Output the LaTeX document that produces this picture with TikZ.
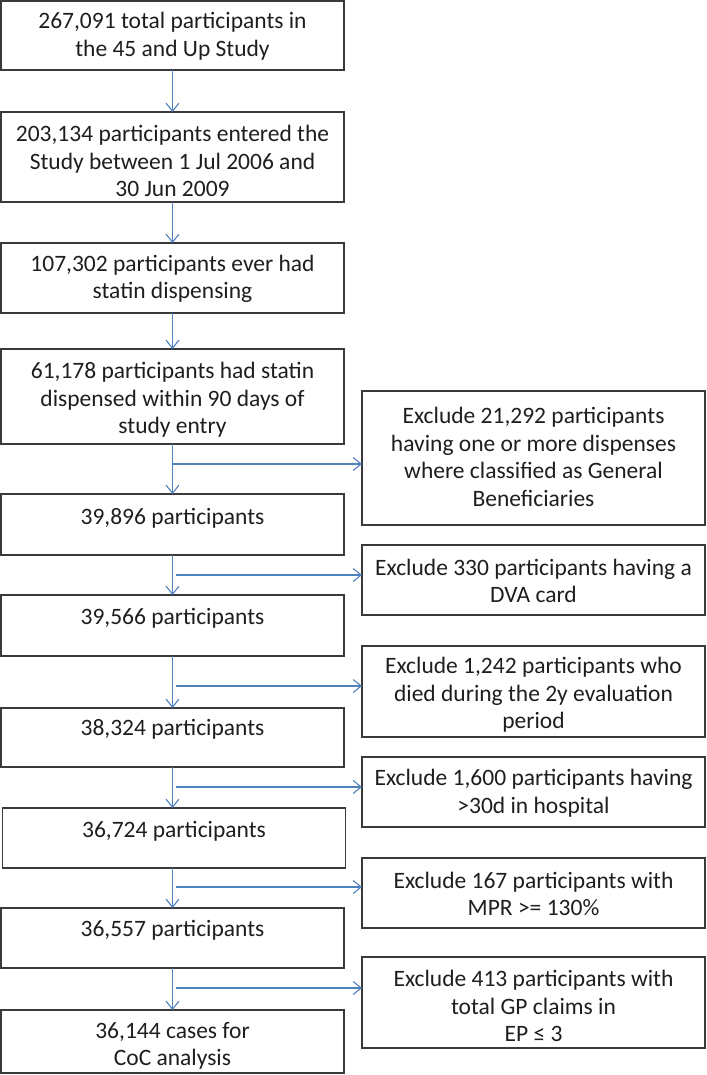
\documentclass[tikz,border=0pt]{standalone}
\usepackage{fontspec}
\setmainfont{Carlito}
\usetikzlibrary{arrows.meta}
\definecolor{boxgray}{HTML}{3A3A3A}
\definecolor{lineblue}{HTML}{4F81BD}
\definecolor{txtgray}{HTML}{1E1E1E}
\begin{document}
\begin{tikzpicture}[x=1pt,y=-1pt,
  box/.style={draw=boxgray, line width=1.4pt, minimum width=343pt, inner sep=0pt, outer sep=0pt},
  txt/.style={align=center, inner sep=0pt, text=txtgray, font=\fontsize{23.5}{27.5}\selectfont},
  arr/.style={draw=lineblue, line width=1.1pt, -{Straight Barb[length=8pt,width=13pt,line width=1.1pt]}},
  ln/.style={draw=lineblue, line width=1.1pt}]
\useasboundingbox (0,0) rectangle (706,1075);
% left column boxes
\node[box, minimum height=69pt] (b1) at (172.5,35.5) {};
\node[txt] (t1) at (172.5,36) {267,091 total participants in\\the 45 and Up Study};
\node[box, minimum height=90pt] (b2) at (172.5,157) {};
\node[txt] (t2) at (172.5,161) {203,134 participants entered the\\Study between 1 Jul 2006 and\\30 Jun 2009};
\node[box, minimum height=70pt] (b3) at (172.5,278) {};
\node[txt] (t3) at (172.5,279) {107,302 participants ever had\\statin dispensing};
\node[box, minimum height=95pt] (b4) at (172.5,396.5) {};
\node[txt] (t4) at (172.5,400) {61,178 participants had statin\\dispensed within 90 days of\\study entry};
\node[box, minimum height=61pt] (b5) at (172.5,524.5) {};
\node[txt] (t5) at (172.5,518) {39,896 participants};
\node[box, minimum height=61pt] (b6) at (172.5,625.5) {};
\node[txt] (t6) at (172.5,618) {39,566 participants};
\node[box, minimum height=59pt] (b7) at (172.5,737.5) {};
\node[txt] (t7) at (172.5,729) {38,324 participants};
\node[box, minimum height=60pt] (b8) at (174,838) {};
\node[txt] (t8) at (174,831) {36,724 participants};
\node[box, minimum height=60pt] (b9) at (172.5,938) {};
\node[txt] (t9) at (172.5,930) {36,557 participants};
\node[box, minimum height=63pt] (b10) at (172.5,1041.5) {};
\node[txt] (t10) at (172.5,1046) {36,144 cases for\\CoC analysis};
% right column boxes
\node[box, minimum height=134pt] (r1) at (533.5,458) {};
\node[txt] (s1) at (533.5,457) {Exclude 21,292 participants\\having one or more dispenses\\where classified as General\\Beneficiaries};
\node[box, minimum height=70pt] (r2) at (533.5,580) {};
\node[txt] (s2) at (533.5,581) {Exclude 330 participants having a\\DVA card};
\node[box, minimum height=91pt] (r3) at (533.5,691.5) {};
\node[txt] (s3) at (533.5,695) {Exclude 1,242 participants who\\died during the 2y evaluation\\period};
\node[box, minimum height=70pt] (r4) at (533.5,792) {};
\node[txt] (s4) at (533.5,793) {Exclude 1,600 participants having\\>30d in hospital};
\node[box, minimum height=70pt] (r5) at (533.5,893) {};
\node[txt] (s5) at (533.5,894) {Exclude 167 participants with\\MPR >= 130\%};
\node[box, minimum height=91pt] (r6) at (533.5,1002.5) {};
\node[txt] (s6) at (533.5,1006) {Exclude 413 participants with\\total GP claims in\\EP ≤ 3};
% vertical arrows
\draw[arr] (b1.south) -- (b2.north);
\draw[arr] (b2.south) -- (b3.north);
\draw[arr] (b3.south) -- (b4.north);
\draw[arr] (b4.south) -- (b5.north);
\draw[arr] (b5.south) -- (b6.north);
\draw[arr] (b6.south) -- (b7.north);
\draw[arr] (b7.south -| b7.south) -- (b8.north -| b7.south);
\draw[arr] (b8.south -| b7.south) -- (b9.north);
\draw[arr] (b9.south) -- (b10.north);
% branch coordinates
\coordinate (j1) at (172.5,464);
\coordinate (j2) at (176,575);
\coordinate (j3) at (176,686);
\coordinate (j4) at (176,787);
\coordinate (j5) at (176,887);
\coordinate (j6) at (176,988);
\draw[arr] (j1) -- (j1 -| r1.west);
\draw[arr] (j2) -- (j2 -| r2.west);
\draw[arr] (j3) -- (j3 -| r3.west);
\draw[arr] (j4) -- (j4 -| r4.west);
\draw[arr] (j5) -- (j5 -| r5.west);
\draw[arr] (j6) -- (j6 -| r6.west);
\end{tikzpicture}
\end{document}
